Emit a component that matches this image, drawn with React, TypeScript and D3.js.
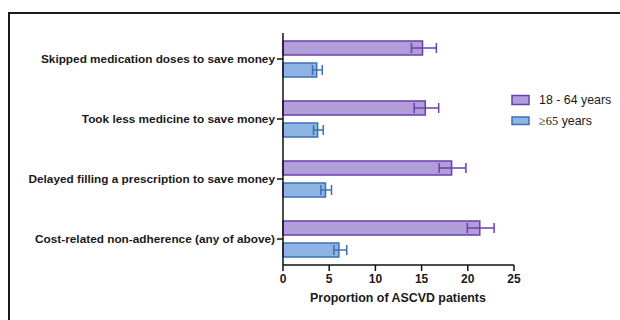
import React from "react";
import * as d3 from "d3";

// Cost-related non-adherence among ASCVD patients, by age group (%, with 95% CI)
const categories = [
  "Skipped medication doses to save money",
  "Took less medicine to save money",
  "Delayed filling a prescription to save money",
  "Cost-related non-adherence (any of above)",
];
const seriesNames = ["18 - 64 years", "≥65 years"];
const youngValues = [15.1, 15.4, 18.25, 21.3];
const youngLower = [13.9, 14.2, 16.9, 19.95];
const youngUpper = [16.6, 16.85, 19.8, 22.85];
const olderValues = [3.65, 3.75, 4.6, 6.05];
const olderLower = [3.2, 3.3, 4.1, 5.5];
const olderUpper = [4.25, 4.35, 5.25, 6.9];
const xTicks = [0, 5, 10, 15, 20, 25];

const W = 620;
const H = 320;
const FONT = "Liberation Sans, Arial, Helvetica, sans-serif";

const series = [
  { name: seriesNames[0], values: youngValues, lo: youngLower, hi: youngUpper, fill: "#b29ddb", stroke: "#6a3fae" },
  { name: seriesNames[1], values: olderValues, lo: olderLower, hi: olderUpper, fill: "#8fb3e2", stroke: "#3b72b6" },
];

export default function App() {
  const x = d3.scaleLinear().domain([0, 25]).range([283, 514]);
  const y = d3.scaleBand<string>().domain(categories).range([29, 269]);
  const sub = d3.scaleBand<string>().domain(seriesNames).range([-18, 18]).paddingInner(8 / 22).paddingOuter(0);
  const axisTop = 33;
  const axisBottom = 265;
  const capH = 10;

  return (
    <svg width={W} height={H} style={{ position: "absolute", left: 0, top: 0, background: "#fff" }}>
      <rect x={0} y={0} width={W} height={H} fill="#fff" />
      {/* outer frame */}
      <path d={`M9,${H + 2} V13 H${W + 2}`} fill="none" stroke="#1a1a1a" strokeWidth={2} />

      {/* bars with error bars */}
      {categories.map((c, i) => {
        const cy = (y(c) as number) + y.bandwidth() / 2;
        return (
          <g key={c}>
            {series.map((s) => {
              const by = cy + (sub(s.name) as number);
              const bh = sub.bandwidth();
              const my = by + bh / 2;
              return (
                <g key={s.name}>
                  <rect
                    x={x(0)}
                    y={by}
                    width={x(s.values[i]) - x(0)}
                    height={bh}
                    fill={s.fill}
                    stroke={s.stroke}
                    strokeWidth={1.5}
                  />
                  <line x1={x(s.lo[i])} x2={x(s.hi[i])} y1={my} y2={my} stroke={s.stroke} strokeWidth={1.5} />
                  <line x1={x(s.lo[i])} x2={x(s.lo[i])} y1={my - capH / 2} y2={my + capH / 2} stroke={s.stroke} strokeWidth={1.5} />
                  <line x1={x(s.hi[i])} x2={x(s.hi[i])} y1={my - capH / 2} y2={my + capH / 2} stroke={s.stroke} strokeWidth={1.5} />
                </g>
              );
            })}
          </g>
        );
      })}

      {/* y axis */}
      <line x1={283} x2={283} y1={axisTop} y2={axisBottom} stroke="#111" strokeWidth={1.5} />
      {categories.map((c) => {
        const cy = (y(c) as number) + y.bandwidth() / 2;
        return (
          <g key={c}>
            <line x1={277} x2={283} y1={cy} y2={cy} stroke="#111" strokeWidth={1.5} />
            <text
              x={275}
              y={cy}
              dy="0.35em"
              textAnchor="end"
              fontFamily={FONT}
              fontWeight="bold"
              fontSize={11.8}
              fill="#1a1a1a"
            >
              {c}
            </text>
          </g>
        );
      })}

      {/* x axis */}
      <line x1={283} x2={514} y1={axisBottom} y2={axisBottom} stroke="#111" strokeWidth={1.5} />
      {xTicks.map((t) => (
        <g key={t}>
          <line x1={x(t)} x2={x(t)} y1={axisBottom} y2={axisBottom + 6} stroke="#111" strokeWidth={1.5} />
          <text
            x={x(t)}
            y={axisBottom + 14}
            dy="0.35em"
            textAnchor="middle"
            fontFamily={FONT}
            fontWeight="bold"
            fontSize={12}
            fill="#1a1a1a"
          >
            {t}
          </text>
        </g>
      ))}
      <text
        x={398}
        y={298}
        dy="0.35em"
        textAnchor="middle"
        fontFamily={FONT}
        fontWeight="bold"
        fontSize={12.4}
        fill="#1a1a1a"
      >
        Proportion of ASCVD patients
      </text>

      {/* legend */}
      {series.map((s, i) => {
        const ly = 100 + i * 21;
        return (
          <g key={s.name}>
            <rect x={512} y={ly - 4.5 + (i === 1 ? 0.5 : 0)} width={17} height={i === 0 ? 9 : 7.5} fill={s.fill} stroke={s.stroke} strokeWidth={1.5} />
            <text x={539} y={ly} dy="0.35em" fontFamily={FONT} fontSize={12.4} fill="#1a1a1a">
              {i === 1 ? (
                <>
                  <tspan fontFamily="Liberation Serif, Times New Roman, serif">≥65</tspan>
                  <tspan> years</tspan>
                </>
              ) : (
                s.name
              )}
            </text>
          </g>
        );
      })}
    </svg>
  );
}
